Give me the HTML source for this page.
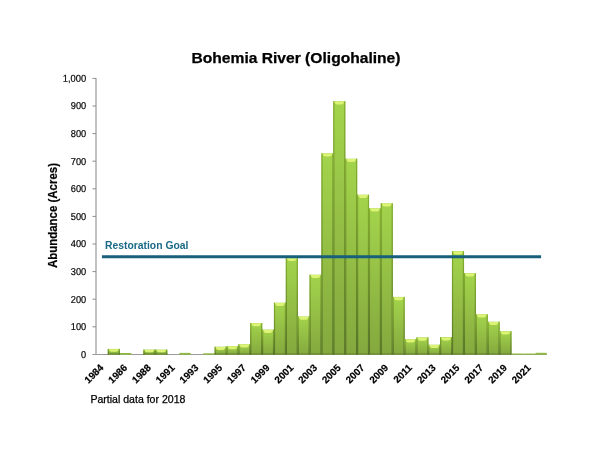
<!DOCTYPE html>
<html><head><meta charset="utf-8"><title>Bohemia River (Oligohaline)</title>
<style>
html,body{margin:0;padding:0;background:#fff;}
body{width:600px;height:460px;overflow:hidden;}
svg{display:block;}
text{font-family:"Liberation Sans",sans-serif;}
</style></head><body>
<svg width="600" height="460" viewBox="0 0 600 460">
<defs>
<linearGradient id="gb" x1="0" y1="0" x2="0" y2="1">
<stop offset="0" stop-color="#a3d44c"/><stop offset="1" stop-color="#84a83e"/>
</linearGradient>
<linearGradient id="ge" x1="0" y1="0" x2="0" y2="1">
<stop offset="0" stop-color="#84ae30"/><stop offset="1" stop-color="#587428"/>
</linearGradient>
</defs>
<rect width="600" height="460" fill="#fff"/>
<text x="296" y="62.6" text-anchor="middle" font-size="14.6" font-weight="bold" fill="#000" stroke="#000" stroke-width="0.25" textLength="209" lengthAdjust="spacingAndGlyphs">Bohemia River (Oligohaline)</text>
<text transform="translate(56.5,215.5) rotate(-90)" text-anchor="middle" font-size="12.3" font-weight="bold" fill="#000" stroke="#000" stroke-width="0.2" textLength="105" lengthAdjust="spacingAndGlyphs">Abundance (Acres)</text>
<g stroke="#858585" stroke-width="1" fill="none">
<path d="M96.0 78.0V354.8"/>
<path d="M92.4 354.5H547.0" stroke="#9a9a9a"/>
<path d="M92.4 326.80H96.0" stroke-width="0.9"/>
<path d="M92.4 299.20H96.0" stroke-width="0.9"/>
<path d="M92.4 271.60H96.0" stroke-width="0.9"/>
<path d="M92.4 244.00H96.0" stroke-width="0.9"/>
<path d="M92.4 216.40H96.0" stroke-width="0.9"/>
<path d="M92.4 188.80H96.0" stroke-width="0.9"/>
<path d="M92.4 161.20H96.0" stroke-width="0.9"/>
<path d="M92.4 133.60H96.0" stroke-width="0.9"/>
<path d="M92.4 106.00H96.0" stroke-width="0.9"/>
<path d="M92.4 78.40H96.0" stroke-width="0.9"/>
</g>
<g font-size="10" fill="#000" stroke="#000" stroke-width="0.2" text-anchor="end">
<text transform="translate(86.2,357.80) rotate(0.03)" textLength="5.1" lengthAdjust="spacingAndGlyphs">0</text>
<text transform="translate(86.2,330.20) rotate(0.03)" textLength="15.4" lengthAdjust="spacingAndGlyphs">100</text>
<text transform="translate(86.2,302.60) rotate(0.03)" textLength="15.4" lengthAdjust="spacingAndGlyphs">200</text>
<text transform="translate(86.2,275.00) rotate(0.03)" textLength="15.4" lengthAdjust="spacingAndGlyphs">300</text>
<text transform="translate(86.2,247.40) rotate(0.03)" textLength="15.4" lengthAdjust="spacingAndGlyphs">400</text>
<text transform="translate(86.2,219.80) rotate(0.03)" textLength="15.4" lengthAdjust="spacingAndGlyphs">500</text>
<text transform="translate(86.2,192.20) rotate(0.03)" textLength="15.4" lengthAdjust="spacingAndGlyphs">600</text>
<text transform="translate(86.2,164.60) rotate(0.03)" textLength="15.4" lengthAdjust="spacingAndGlyphs">700</text>
<text transform="translate(86.2,137.00) rotate(0.03)" textLength="15.4" lengthAdjust="spacingAndGlyphs">800</text>
<text transform="translate(86.2,109.40) rotate(0.03)" textLength="15.4" lengthAdjust="spacingAndGlyphs">900</text>
<text transform="translate(86.2,81.80) rotate(0.03)" textLength="23.5" lengthAdjust="spacingAndGlyphs">1,000</text>
</g>
<g>
<rect x="107.87" y="348.90" width="11.87" height="5.80" fill="url(#gb)"/><rect x="107.87" y="353.10" width="11.87" height="1.6" fill="#5f7d2c" opacity="0.55"/><rect x="107.72" y="348.90" width="1.25" height="5.80" fill="url(#ge)"/><rect x="118.64" y="348.90" width="1.25" height="5.80" fill="url(#ge)"/><path d="M108.87 349.20H118.74Q118.14 351.81 115.94 351.81H111.67Q109.47 351.81 108.87 349.20Z" fill="#ddf373"/>
<rect x="120.04" y="353.00" width="11.27" height="1.70" fill="#8fba40"/>
<rect x="143.47" y="349.60" width="11.87" height="5.10" fill="url(#gb)"/><rect x="143.47" y="353.10" width="11.87" height="1.6" fill="#5f7d2c" opacity="0.55"/><rect x="143.32" y="349.60" width="1.25" height="5.10" fill="url(#ge)"/><rect x="154.24" y="349.60" width="1.25" height="5.10" fill="url(#ge)"/><path d="M144.47 349.90H154.34Q153.74 352.19 151.54 352.19H147.27Q145.07 352.19 144.47 349.90Z" fill="#ddf373"/>
<rect x="155.34" y="349.60" width="11.87" height="5.10" fill="url(#gb)"/><rect x="155.34" y="353.10" width="11.87" height="1.6" fill="#5f7d2c" opacity="0.55"/><rect x="155.19" y="349.60" width="1.25" height="5.10" fill="url(#ge)"/><rect x="166.11" y="349.60" width="1.25" height="5.10" fill="url(#ge)"/><path d="M156.34 349.90H166.21Q165.61 352.19 163.41 352.19H159.14Q156.94 352.19 156.34 349.90Z" fill="#ddf373"/>
<rect x="179.38" y="352.90" width="11.27" height="1.80" fill="#8fba40"/>
<rect x="203.12" y="353.30" width="11.27" height="1.40" fill="#8fba40"/>
<rect x="214.68" y="346.70" width="11.87" height="8.00" fill="url(#gb)"/><rect x="214.68" y="353.10" width="11.87" height="1.6" fill="#5f7d2c" opacity="0.55"/><rect x="214.53" y="346.70" width="1.25" height="8.00" fill="url(#ge)"/><rect x="225.45" y="346.70" width="1.25" height="8.00" fill="url(#ge)"/><path d="M215.68 347.00H225.55Q224.95 350.00 222.75 350.00H218.48Q216.28 350.00 215.68 347.00Z" fill="#ddf373"/>
<rect x="226.55" y="346.00" width="11.87" height="8.70" fill="url(#gb)"/><rect x="226.55" y="353.10" width="11.87" height="1.6" fill="#5f7d2c" opacity="0.55"/><rect x="226.40" y="346.00" width="1.25" height="8.70" fill="url(#ge)"/><rect x="237.32" y="346.00" width="1.25" height="8.70" fill="url(#ge)"/><path d="M227.55 346.30H237.42Q236.82 349.30 234.62 349.30H230.35Q228.15 349.30 227.55 346.30Z" fill="#ddf373"/>
<rect x="238.42" y="344.30" width="11.87" height="10.40" fill="url(#gb)"/><rect x="238.42" y="353.10" width="11.87" height="1.6" fill="#5f7d2c" opacity="0.55"/><rect x="238.27" y="344.30" width="1.25" height="10.40" fill="url(#ge)"/><rect x="249.19" y="344.30" width="1.25" height="10.40" fill="url(#ge)"/><path d="M239.42 344.60H249.29Q248.69 347.60 246.49 347.60H242.22Q240.02 347.60 239.42 344.60Z" fill="#ddf373"/>
<rect x="250.29" y="323.00" width="11.87" height="31.70" fill="url(#gb)"/><rect x="250.29" y="353.10" width="11.87" height="1.6" fill="#5f7d2c" opacity="0.55"/><rect x="250.14" y="323.00" width="1.25" height="31.70" fill="url(#ge)"/><rect x="261.06" y="323.00" width="1.25" height="31.70" fill="url(#ge)"/><path d="M251.29 323.30H261.16Q260.56 326.30 258.36 326.30H254.09Q251.89 326.30 251.29 323.30Z" fill="#ddf373"/>
<rect x="262.16" y="329.60" width="11.87" height="25.10" fill="url(#gb)"/><rect x="262.16" y="353.10" width="11.87" height="1.6" fill="#5f7d2c" opacity="0.55"/><rect x="262.01" y="329.60" width="1.25" height="25.10" fill="url(#ge)"/><rect x="272.93" y="329.60" width="1.25" height="25.10" fill="url(#ge)"/><path d="M263.16 329.90H273.03Q272.43 332.90 270.23 332.90H265.96Q263.76 332.90 263.16 329.90Z" fill="#ddf373"/>
<rect x="274.03" y="302.70" width="11.87" height="52.00" fill="url(#gb)"/><rect x="274.03" y="353.10" width="11.87" height="1.6" fill="#5f7d2c" opacity="0.55"/><rect x="273.88" y="302.70" width="1.25" height="52.00" fill="url(#ge)"/><rect x="284.79" y="302.70" width="1.25" height="52.00" fill="url(#ge)"/><path d="M275.03 303.00H284.89Q284.29 306.00 282.09 306.00H277.83Q275.63 306.00 275.03 303.00Z" fill="#ddf373"/>
<rect x="285.89" y="257.80" width="11.87" height="96.90" fill="url(#gb)"/><rect x="285.89" y="353.10" width="11.87" height="1.6" fill="#5f7d2c" opacity="0.55"/><rect x="285.74" y="257.80" width="1.25" height="96.90" fill="url(#ge)"/><rect x="296.66" y="257.80" width="1.25" height="96.90" fill="url(#ge)"/><path d="M286.89 258.10H296.76Q296.16 261.10 293.96 261.10H289.69Q287.49 261.10 286.89 258.10Z" fill="#ddf373"/>
<rect x="297.76" y="316.50" width="11.87" height="38.20" fill="url(#gb)"/><rect x="297.76" y="353.10" width="11.87" height="1.6" fill="#5f7d2c" opacity="0.55"/><rect x="297.61" y="316.50" width="1.25" height="38.20" fill="url(#ge)"/><rect x="308.53" y="316.50" width="1.25" height="38.20" fill="url(#ge)"/><path d="M298.76 316.80H308.63Q308.03 319.80 305.83 319.80H301.56Q299.36 319.80 298.76 316.80Z" fill="#ddf373"/>
<rect x="309.63" y="274.70" width="11.87" height="80.00" fill="url(#gb)"/><rect x="309.63" y="353.10" width="11.87" height="1.6" fill="#5f7d2c" opacity="0.55"/><rect x="309.48" y="274.70" width="1.25" height="80.00" fill="url(#ge)"/><rect x="320.40" y="274.70" width="1.25" height="80.00" fill="url(#ge)"/><path d="M310.63 275.00H320.50Q319.90 278.00 317.70 278.00H313.43Q311.23 278.00 310.63 275.00Z" fill="#ddf373"/>
<rect x="321.50" y="153.30" width="11.87" height="201.40" fill="url(#gb)"/><rect x="321.50" y="353.10" width="11.87" height="1.6" fill="#5f7d2c" opacity="0.55"/><rect x="321.35" y="153.30" width="1.25" height="201.40" fill="url(#ge)"/><rect x="332.27" y="153.30" width="1.25" height="201.40" fill="url(#ge)"/><path d="M322.50 153.60H332.37Q331.77 156.60 329.57 156.60H325.30Q323.10 156.60 322.50 153.60Z" fill="#ddf373"/>
<rect x="333.37" y="101.20" width="11.87" height="253.50" fill="url(#gb)"/><rect x="333.37" y="353.10" width="11.87" height="1.6" fill="#5f7d2c" opacity="0.55"/><rect x="333.22" y="101.20" width="1.25" height="253.50" fill="url(#ge)"/><rect x="344.14" y="101.20" width="1.25" height="253.50" fill="url(#ge)"/><path d="M334.37 101.50H344.24Q343.64 104.50 341.44 104.50H337.17Q334.97 104.50 334.37 101.50Z" fill="#ddf373"/>
<rect x="345.24" y="158.70" width="11.87" height="196.00" fill="url(#gb)"/><rect x="345.24" y="353.10" width="11.87" height="1.6" fill="#5f7d2c" opacity="0.55"/><rect x="345.09" y="158.70" width="1.25" height="196.00" fill="url(#ge)"/><rect x="356.01" y="158.70" width="1.25" height="196.00" fill="url(#ge)"/><path d="M346.24 159.00H356.11Q355.51 162.00 353.31 162.00H349.04Q346.84 162.00 346.24 159.00Z" fill="#ddf373"/>
<rect x="357.11" y="194.70" width="11.87" height="160.00" fill="url(#gb)"/><rect x="357.11" y="353.10" width="11.87" height="1.6" fill="#5f7d2c" opacity="0.55"/><rect x="356.96" y="194.70" width="1.25" height="160.00" fill="url(#ge)"/><rect x="367.87" y="194.70" width="1.25" height="160.00" fill="url(#ge)"/><path d="M358.11 195.00H367.97Q367.37 198.00 365.17 198.00H360.91Q358.71 198.00 358.11 195.00Z" fill="#ddf373"/>
<rect x="368.97" y="208.30" width="11.87" height="146.40" fill="url(#gb)"/><rect x="368.97" y="353.10" width="11.87" height="1.6" fill="#5f7d2c" opacity="0.55"/><rect x="368.82" y="208.30" width="1.25" height="146.40" fill="url(#ge)"/><rect x="379.74" y="208.30" width="1.25" height="146.40" fill="url(#ge)"/><path d="M369.97 208.60H379.84Q379.24 211.60 377.04 211.60H372.77Q370.57 211.60 369.97 208.60Z" fill="#ddf373"/>
<rect x="380.84" y="203.30" width="11.87" height="151.40" fill="url(#gb)"/><rect x="380.84" y="353.10" width="11.87" height="1.6" fill="#5f7d2c" opacity="0.55"/><rect x="380.69" y="203.30" width="1.25" height="151.40" fill="url(#ge)"/><rect x="391.61" y="203.30" width="1.25" height="151.40" fill="url(#ge)"/><path d="M381.84 203.60H391.71Q391.11 206.60 388.91 206.60H384.64Q382.44 206.60 381.84 203.60Z" fill="#ddf373"/>
<rect x="392.71" y="296.90" width="11.87" height="57.80" fill="url(#gb)"/><rect x="392.71" y="353.10" width="11.87" height="1.6" fill="#5f7d2c" opacity="0.55"/><rect x="392.56" y="296.90" width="1.25" height="57.80" fill="url(#ge)"/><rect x="403.48" y="296.90" width="1.25" height="57.80" fill="url(#ge)"/><path d="M393.71 297.20H403.58Q402.98 300.20 400.78 300.20H396.51Q394.31 300.20 393.71 297.20Z" fill="#ddf373"/>
<rect x="404.58" y="339.20" width="11.87" height="15.50" fill="url(#gb)"/><rect x="404.58" y="353.10" width="11.87" height="1.6" fill="#5f7d2c" opacity="0.55"/><rect x="404.43" y="339.20" width="1.25" height="15.50" fill="url(#ge)"/><rect x="415.35" y="339.20" width="1.25" height="15.50" fill="url(#ge)"/><path d="M405.58 339.50H415.45Q414.85 342.50 412.65 342.50H408.38Q406.18 342.50 405.58 339.50Z" fill="#ddf373"/>
<rect x="416.45" y="337.40" width="11.87" height="17.30" fill="url(#gb)"/><rect x="416.45" y="353.10" width="11.87" height="1.6" fill="#5f7d2c" opacity="0.55"/><rect x="416.30" y="337.40" width="1.25" height="17.30" fill="url(#ge)"/><rect x="427.22" y="337.40" width="1.25" height="17.30" fill="url(#ge)"/><path d="M417.45 337.70H427.32Q426.72 340.70 424.52 340.70H420.25Q418.05 340.70 417.45 337.70Z" fill="#ddf373"/>
<rect x="428.32" y="344.70" width="11.87" height="10.00" fill="url(#gb)"/><rect x="428.32" y="353.10" width="11.87" height="1.6" fill="#5f7d2c" opacity="0.55"/><rect x="428.17" y="344.70" width="1.25" height="10.00" fill="url(#ge)"/><rect x="439.08" y="344.70" width="1.25" height="10.00" fill="url(#ge)"/><path d="M429.32 345.00H439.18Q438.58 348.00 436.38 348.00H432.12Q429.92 348.00 429.32 345.00Z" fill="#ddf373"/>
<rect x="440.18" y="337.10" width="11.87" height="17.60" fill="url(#gb)"/><rect x="440.18" y="353.10" width="11.87" height="1.6" fill="#5f7d2c" opacity="0.55"/><rect x="440.03" y="337.10" width="1.25" height="17.60" fill="url(#ge)"/><rect x="450.95" y="337.10" width="1.25" height="17.60" fill="url(#ge)"/><path d="M441.18 337.40H451.05Q450.45 340.40 448.25 340.40H443.98Q441.78 340.40 441.18 337.40Z" fill="#ddf373"/>
<rect x="452.05" y="251.20" width="11.87" height="103.50" fill="url(#gb)"/><rect x="452.05" y="353.10" width="11.87" height="1.6" fill="#5f7d2c" opacity="0.55"/><rect x="451.90" y="251.20" width="1.25" height="103.50" fill="url(#ge)"/><rect x="462.82" y="251.20" width="1.25" height="103.50" fill="url(#ge)"/><path d="M453.05 251.50H462.92Q462.32 254.50 460.12 254.50H455.85Q453.65 254.50 453.05 251.50Z" fill="#ddf373"/>
<rect x="463.92" y="273.20" width="11.87" height="81.50" fill="url(#gb)"/><rect x="463.92" y="353.10" width="11.87" height="1.6" fill="#5f7d2c" opacity="0.55"/><rect x="463.77" y="273.20" width="1.25" height="81.50" fill="url(#ge)"/><rect x="474.69" y="273.20" width="1.25" height="81.50" fill="url(#ge)"/><path d="M464.92 273.50H474.79Q474.19 276.50 471.99 276.50H467.72Q465.52 276.50 464.92 273.50Z" fill="#ddf373"/>
<rect x="475.79" y="314.30" width="11.87" height="40.40" fill="url(#gb)"/><rect x="475.79" y="353.10" width="11.87" height="1.6" fill="#5f7d2c" opacity="0.55"/><rect x="475.64" y="314.30" width="1.25" height="40.40" fill="url(#ge)"/><rect x="486.56" y="314.30" width="1.25" height="40.40" fill="url(#ge)"/><path d="M476.79 314.60H486.66Q486.06 317.60 483.86 317.60H479.59Q477.39 317.60 476.79 314.60Z" fill="#ddf373"/>
<rect x="487.66" y="321.70" width="11.87" height="33.00" fill="url(#gb)"/><rect x="487.66" y="353.10" width="11.87" height="1.6" fill="#5f7d2c" opacity="0.55"/><rect x="487.51" y="321.70" width="1.25" height="33.00" fill="url(#ge)"/><rect x="498.43" y="321.70" width="1.25" height="33.00" fill="url(#ge)"/><path d="M488.66 322.00H498.53Q497.93 325.00 495.73 325.00H491.46Q489.26 325.00 488.66 322.00Z" fill="#ddf373"/>
<rect x="499.53" y="331.20" width="11.87" height="23.50" fill="url(#gb)"/><rect x="499.53" y="353.10" width="11.87" height="1.6" fill="#5f7d2c" opacity="0.55"/><rect x="499.38" y="331.20" width="1.25" height="23.50" fill="url(#ge)"/><rect x="510.29" y="331.20" width="1.25" height="23.50" fill="url(#ge)"/><path d="M500.53 331.50H510.39Q509.79 334.50 507.59 334.50H503.33Q501.13 334.50 500.53 331.50Z" fill="#ddf373"/>
<rect x="511.69" y="353.50" width="11.27" height="1.20" fill="#8fba40"/>
<rect x="523.56" y="353.50" width="11.27" height="1.20" fill="#8fba40"/>
<rect x="535.43" y="352.80" width="11.27" height="1.90" fill="#8fba40"/>
</g>
<path d="M101.93 256.7H541.07" stroke="#175f7b" stroke-width="3" fill="none"/>
<text x="105" y="249.3" font-size="10" font-weight="bold" fill="#1a6986" textLength="83.4" lengthAdjust="spacingAndGlyphs">Restoration Goal</text>
<g font-size="9.9" font-weight="bold" fill="#000" stroke="#000" stroke-width="0.2" text-anchor="end">
<text transform="translate(104.13,368.4) rotate(-45)">1984</text>
<text transform="translate(127.87,368.4) rotate(-45)">1986</text>
<text transform="translate(151.61,368.4) rotate(-45)">1988</text>
<text transform="translate(175.34,368.4) rotate(-45)">1991</text>
<text transform="translate(199.08,368.4) rotate(-45)">1993</text>
<text transform="translate(222.82,368.4) rotate(-45)">1995</text>
<text transform="translate(246.56,368.4) rotate(-45)">1997</text>
<text transform="translate(270.29,368.4) rotate(-45)">1999</text>
<text transform="translate(294.03,368.4) rotate(-45)">2001</text>
<text transform="translate(317.77,368.4) rotate(-45)">2003</text>
<text transform="translate(341.50,368.4) rotate(-45)">2005</text>
<text transform="translate(365.24,368.4) rotate(-45)">2007</text>
<text transform="translate(388.98,368.4) rotate(-45)">2009</text>
<text transform="translate(412.71,368.4) rotate(-45)">2011</text>
<text transform="translate(436.45,368.4) rotate(-45)">2013</text>
<text transform="translate(460.19,368.4) rotate(-45)">2015</text>
<text transform="translate(483.92,368.4) rotate(-45)">2017</text>
<text transform="translate(507.66,368.4) rotate(-45)">2019</text>
<text transform="translate(531.40,368.4) rotate(-45)">2021</text>
</g>
<text x="90.4" y="402.6" font-size="10.3" fill="#000" stroke="#000" stroke-width="0.25" textLength="95" lengthAdjust="spacingAndGlyphs">Partial data for 2018</text>
</svg>
</body></html>
